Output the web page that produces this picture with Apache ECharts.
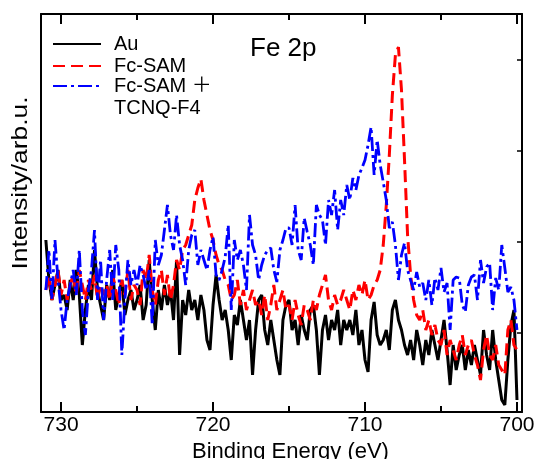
<!DOCTYPE html>
<html><head><meta charset="utf-8">
<script src="https://cdn.jsdelivr.net/npm/echarts@6/dist/echarts.min.js"></script>
<style>html,body{margin:0;padding:0;background:#fff}#c{width:536px;height:459px}</style>
</head><body><div id="c"></div>
<script>
// Sampling grid of the spectra (binding energy, eV)
const E_START = 731.0;
const E_STEP = 0.2;

// Intensities (arb. u.), one value per 0.2 eV from 731.0 down to 700.0
const au = [
172,132,112,127,142,112,117,102,132,112,
142,117,67,102,127,112,162,122,107,92,
127,112,142,102,117,132,97,112,122,102,
112,127,92,107,152,112,82,122,102,127,
107,122,92,152,57,112,97,122,102,112,
92,117,102,72,62,107,137,112,92,102,
82,52,97,87,112,92,72,92,37,82,
112,117,82,67,92,72,52,37,92,107,
112,82,92,67,97,82,72,102,107,82,
37,82,97,72,92,82,102,67,92,82,
92,77,102,67,82,52,40,92,110,77,
67,72,82,62,102,112,92,82,67,57,
72,52,82,67,47,72,57,82,67,52,
72,92,62,27,67,42,57,67,42,62,
47,67,52,37,82,57,42,82,52,32,
12,7,52,87,102,12
];
const fcSam = [
122,137,112,127,142,117,132,112,127,137,
117,142,127,112,132,122,137,112,127,117,
127,112,137,122,107,132,117,142,112,127,
122,107,142,132,157,122,107,132,142,117,
137,112,127,152,142,162,167,177,187,212,
224,233,212,197,182,172,157,147,142,132,
127,112,117,132,107,122,102,112,122,107,
112,97,117,92,107,127,102,112,122,102,
107,92,112,97,87,107,102,92,112,102,
117,127,137,112,102,117,107,112,122,112,
102,122,112,127,117,132,112,117,127,132,
142,167,207,257,317,357,365,322,252,177,
137,112,97,92,102,82,92,77,87,72,
67,82,57,72,62,52,67,77,57,67,
72,57,47,32,62,77,57,52,67,47,
42,37,82,92,67,62
];
const fcSamTcnq = [
122,162,112,172,132,102,82,112,127,142,
117,162,102,77,122,142,182,112,152,92,
132,162,112,167,142,57,112,152,127,142,
127,147,137,122,142,87,172,147,157,182,
207,177,162,197,167,152,127,162,177,182,
147,162,152,142,162,175,137,132,142,155,
187,102,172,152,162,147,122,197,167,157,
132,147,157,162,164,142,130,162,172,184,
184,167,207,162,152,194,180,167,147,207,
197,192,167,212,197,222,182,212,197,227,
212,234,222,237,244,252,267,285,237,272,
247,230,212,184,190,167,132,157,169,142,
132,122,140,125,129,112,132,107,134,122,
144,120,129,82,132,135,134,107,100,127,
135,137,112,152,129,145,149,102,134,122,
167,144,120,125,112,82
];

const seriesNames = ['Au', 'Fc-SAM', 'Fc-SAM ＋\nTCNQ-F4'];
const xMajorTicks = [730, 720, 710, 700];
const xMinorTicks = [725, 715, 705];
const yRightTicks = [79, 170, 261, 352];
const X_MIN = 699.67, X_MAX = 731.32;
const Y_MIN = 0, Y_MAX = 398;

function pairs(vals) {
  return vals.map((v, i) => [+(E_START - E_STEP * i).toFixed(2), v]);
}

const chart = echarts.init(document.getElementById('c'), null, {renderer: 'canvas'});
const FONT = '"Liberation Sans", "Noto Sans CJK JP", Arial, sans-serif';
const baseX = {
  type: 'value', inverse: true, min: X_MIN, max: X_MAX, gridIndex: 0,
  splitLine: {show: false},
  axisLine: {show: false, onZero: false},
  axisLabel: {show: false},
  axisTick: {show: false}
};
const legendText = {fontFamily: FONT, fontSize: 20, color: '#000', lineHeight: 22, padding: [0, 0, 0, 8]};
const option = {
  animation: false,
  backgroundColor: '#fff',
  textStyle: {fontFamily: FONT},
  grid: {left: 41, top: 14, width: 481, height: 398, containLabel: false, outerBoundsMode: 'none'},
  title: {
    text: 'Fe 2p', left: 250, top: 36, padding: 0,
    textStyle: {fontFamily: FONT, fontSize: 26, fontWeight: 'normal', color: '#000'}
  },
  legend: [
    {
      data: [seriesNames[0], seriesNames[1]],
      orient: 'vertical', left: 52, top: 33, padding: 0, itemGap: 0,
      itemWidth: 48, itemHeight: 14,
      itemStyle: {opacity: 0, borderWidth: 0},
      textStyle: legendText
    },
    {
      data: [seriesNames[2]],
      formatter: name => '\n' + name,
      orient: 'vertical', left: 52, top: 53, padding: 0, itemGap: 0,
      itemWidth: 48, itemHeight: 14,
      itemStyle: {opacity: 0, borderWidth: 0},
      textStyle: legendText
    }
  ],
  xAxis: [
    Object.assign({}, baseX, {
      position: 'bottom',
      name: 'Binding Energy (eV)', nameLocation: 'middle', nameGap: 26,
      nameTextStyle: {fontFamily: FONT, fontSize: 22, color: '#000', padding: [0, 0, 0, 18]},
      axisLine: {show: true, onZero: false, lineStyle: {color: '#000', width: 2}},
      axisTick: {show: true, inside: true, length: 10, customValues: xMajorTicks, lineStyle: {color: '#000', width: 2}},
      axisLabel: {show: true, customValues: xMajorTicks, margin: 3, fontFamily: FONT, fontSize: 21, color: '#000'}
    }),
    Object.assign({}, baseX, {
      position: 'bottom',
      axisTick: {show: true, inside: true, length: 6, customValues: xMinorTicks, lineStyle: {color: '#000', width: 2}}
    }),
    Object.assign({}, baseX, {
      position: 'top',
      axisLine: {show: true, onZero: false, lineStyle: {color: '#000', width: 2}},
      axisTick: {show: true, inside: true, length: 10, customValues: xMajorTicks, lineStyle: {color: '#000', width: 2}}
    }),
    Object.assign({}, baseX, {
      position: 'top',
      axisTick: {show: true, inside: true, length: 6, customValues: xMinorTicks, lineStyle: {color: '#000', width: 2}}
    })
  ],
  yAxis: [
    {
      type: 'value', min: Y_MIN, max: Y_MAX, position: 'left',
      splitLine: {show: false},
      axisLine: {show: true, onZero: false, lineStyle: {color: '#000', width: 2}},
      axisTick: {show: false}, axisLabel: {show: false}
    },
    {
      type: 'value', min: Y_MIN, max: Y_MAX, position: 'right',
      splitLine: {show: false},
      axisLine: {show: true, onZero: false, lineStyle: {color: '#000', width: 2}},
      axisTick: {show: true, inside: true, length: 5, customValues: yRightTicks, lineStyle: {color: '#000', width: 1.5}},
      axisLabel: {show: false}
    }
  ],
  graphic: [
    {
      type: 'text', x: 21, y: 183, rotation: Math.PI / 2, scaleX: 1.2,
      style: {text: 'Intensity/arb.u.', fontFamily: FONT, fontSize: 22, fill: '#000', align: 'center', verticalAlign: 'middle'}
    }
  ],
  series: [
    {
      name: seriesNames[0], type: 'line', data: pairs(au), showSymbol: false, symbol: 'none',
      xAxisIndex: 0, yAxisIndex: 0,
      lineStyle: {color: '#000', width: 3, type: 'solid'}, itemStyle: {color: '#000'}
    },
    {
      name: seriesNames[1], type: 'line', data: pairs(fcSam), showSymbol: false, symbol: 'none',
      xAxisIndex: 0, yAxisIndex: 0,
      lineStyle: {color: '#ff0000', width: 3, type: [12, 6]}, itemStyle: {color: '#ff0000'}
    },
    {
      name: seriesNames[2], type: 'line', data: pairs(fcSamTcnq), showSymbol: false, symbol: 'none',
      xAxisIndex: 0, yAxisIndex: 0,
      lineStyle: {color: '#0000ff', width: 2.8, type: [14, 4, 3, 4]}, itemStyle: {color: '#0000ff'}
    }
  ]
};
chart.setOption(option);
</script></body></html>
